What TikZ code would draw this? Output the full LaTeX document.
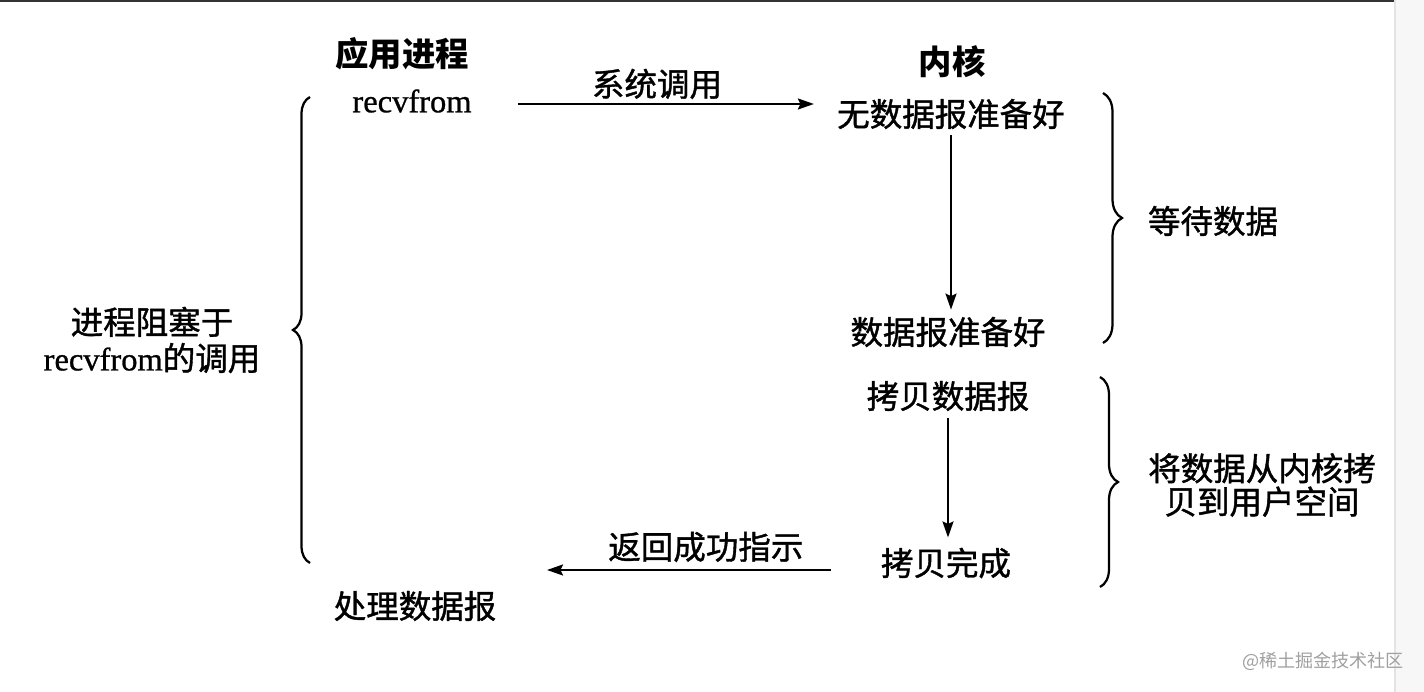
\documentclass[tikz,border=0pt]{standalone}
\usepackage{fontspec}
\setmainfont{Liberation Serif}
\newfontfamily\cjk{Noto Sans CJK SC}
\newfontfamily\cjkm[FakeBold=1.2]{Noto Sans CJK SC}
\newfontfamily\latm[FakeBold=0.8]{Liberation Serif}
\usetikzlibrary{arrows.meta,decorations.pathreplacing,calc}
\definecolor{topbar}{HTML}{333333}
\definecolor{stripbg}{HTML}{F7F7F7}
\definecolor{stripline}{HTML}{E4E4E4}
\definecolor{wmark}{HTML}{A0A0A0}
\tikzset{
  txt/.style={inner sep=0pt, font=\cjkm\fontsize{18.5}{20}\selectfont, text=black},
  ttl/.style={inner sep=0pt, font=\cjk\bfseries\fontsize{19}{24}\selectfont, text=black},
  lat/.style={inner sep=0pt, font=\latm\fontsize{18.5}{24}\selectfont, text=black},
  arr/.style={line width=0.04cm, draw=black, -{Stealth[length=0.32cm,width=0.22cm,inset=0.05cm]}},
  brc/.style={line width=0.045cm, draw=black, decorate, decoration={brace, amplitude=#1}},
  wm/.style={inner sep=0pt, font=\cjk\fontsize{10.3}{12}\selectfont, text=wmark}
}
\begin{document}
\begin{tikzpicture}[x=0.02cm,y=-0.02cm]
\useasboundingbox (0,0) rectangle (1424,692);
\fill[white] (0,0) rectangle (1424,692);
\fill[stripbg] (1394,0) rectangle (1424,692);
\draw[stripline, line width=0.03cm] (1395,0) -- (1395,692);
\fill[topbar] (0,0) rectangle (1394,2.5);

% titles
\node[ttl] (app) at (402,54) {应用进程};
\node[ttl] (kern) at (952,62) {内核};

% application side
\node[lat] (recv) at (412,101) {recvfrom};
\node[txt] (proc) at (415,606) {处理数据报};

% kernel side
\node[txt] (nodata) at (951,114) {无数据报准备好};
\node[txt] (ready) at (948,332) {数据报准备好};
\node[txt] (copy) at (948,396) {拷贝数据报};
\node[txt] (done) at (946,563) {拷贝完成};

% side labels
\node[txt, font=\cjkm\fontsize{18.5}{20.5}\selectfont, align=center] (block) at (152,340) {进程阻塞于\\{\latm recvfrom}的调用};
\node[txt] (wait) at (1213,221) {等待数据};
\node[txt, font=\cjkm\fontsize{18.5}{19}\selectfont, align=center] (copyk) at (1262,485) {将数据从内核拷\\贝到用户空间};

% arrows
\draw[arr] ([xshift=0.92cm,yshift=-0.06cm]recv.east) -- ([xshift=-0.46cm,yshift=-0.06cm]recv.east -| nodata.west)
  node[txt, pos=0.47, anchor=south, yshift=0.08cm] (sys) {系统调用};
\draw[arr, shorten <=0.12cm, shorten >=0.14cm] (nodata.south) -- (nodata.south |- ready.north);
\draw[arr, shorten <=0.14cm, shorten >=0.2cm] (copy.south) -- (copy.south |- done.north);
\coordinate (retend) at (547,570);
\draw[arr] ([xshift=-1.0cm]done.west |- retend) -- (retend)
  node[txt, pos=0.44, anchor=south, yshift=0.14cm] (ret) {返回成功指示};

% braces
\draw[brc=0.34cm] (310,563) -- (310,97);
\draw[brc=0.38cm] (1103,93) -- (1103,343);
\draw[brc=0.36cm] (1100,377) -- (1100,587);

% watermark
\node[wm] (mark) at (1323,661) {@稀土掘金技术社区};
\end{tikzpicture}
\end{document}
